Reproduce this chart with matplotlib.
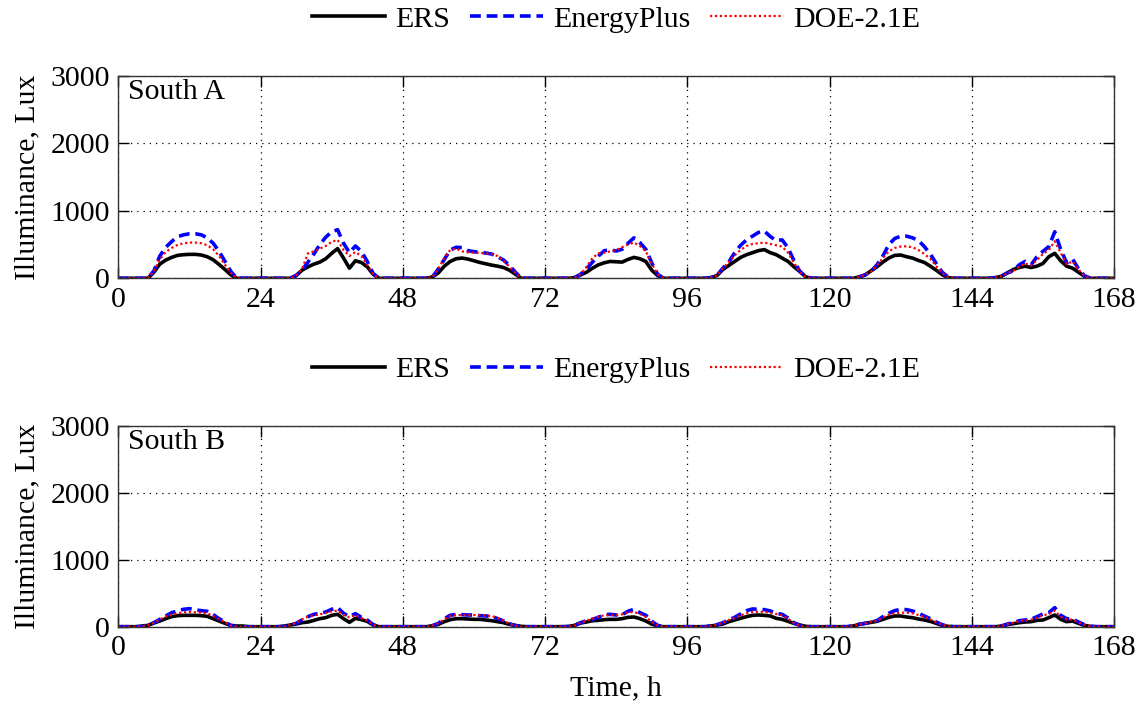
import matplotlib
matplotlib.use("Agg")
import matplotlib.pyplot as plt
import numpy as np

plt.rcParams["font.family"] = ["Liberation Serif", "DejaVu Serif"]
FS = 21.5
plt.rcParams["font.size"] = FS

# hourly illuminance (lux), one row per day, last row closes at hour 168
ers_a = sum([
    [0, 0, 0, 0, 0, 0, 90, 210, 270, 310, 340, 350, 355, 355, 345, 320, 275, 205, 130, 50, 0, 0, 0, 0],
    [0, 0, 0, 0, 0, 0, 40, 120, 170, 210, 240, 290, 370, 440, 300, 150, 260, 235, 170, 60, 0, 0, 0, 0],
    [0, 0, 0, 0, 0, 20, 80, 180, 250, 290, 300, 285, 260, 235, 215, 195, 180, 160, 120, 60, 0, 0, 0, 0],
    [0, 0, 0, 0, 0, 10, 50, 90, 150, 200, 230, 250, 245, 240, 280, 310, 290, 250, 120, 40, 0, 0, 0, 0],
    [0, 0, 0, 0, 10, 40, 130, 190, 250, 310, 350, 380, 410, 425, 380, 350, 300, 250, 170, 100, 20, 0, 0, 0],
    [0, 0, 0, 0, 0, 20, 50, 110, 170, 240, 300, 340, 345, 320, 300, 265, 235, 180, 120, 55, 10, 0, 0, 0],
    [0, 0, 0, 0, 10, 30, 80, 130, 160, 180, 160, 180, 220, 320, 370, 260, 180, 150, 90, 30, 0, 0, 0, 0, 0],
], [])
eplus_a = sum([
    [0, 0, 0, 0, 0, 0, 110, 330, 460, 545, 615, 645, 660, 660, 645, 600, 520, 400, 250, 100, 0, 0, 0, 0],
    [0, 0, 0, 0, 0, 0, 40, 120, 240, 360, 500, 610, 690, 720, 520, 380, 480, 400, 250, 70, 0, 0, 0, 0],
    [0, 0, 0, 0, 0, 20, 140, 280, 420, 460, 455, 410, 395, 385, 375, 360, 320, 270, 190, 90, 0, 0, 0, 0],
    [0, 0, 0, 0, 0, 10, 60, 140, 240, 330, 410, 420, 405, 430, 520, 600, 530, 430, 230, 60, 0, 0, 0, 0],
    [0, 0, 0, 0, 10, 40, 150, 240, 380, 490, 570, 625, 680, 700, 620, 560, 570, 450, 260, 100, 20, 0, 0, 0],
    [0, 0, 0, 0, 0, 20, 50, 100, 200, 330, 500, 590, 625, 625, 600, 560, 470, 360, 220, 90, 20, 0, 0, 0],
    [0, 0, 0, 0, 10, 30, 80, 110, 200, 250, 200, 320, 400, 470, 690, 430, 230, 285, 140, 40, 0, 0, 0, 0, 0],
], [])
doe_a = sum([
    [0, 0, 0, 0, 0, 0, 110, 280, 390, 450, 495, 520, 530, 530, 520, 490, 430, 330, 200, 80, 0, 0, 0, 0],
    [0, 0, 0, 0, 0, 0, 40, 140, 370, 400, 440, 480, 540, 570, 420, 330, 390, 330, 200, 60, 0, 0, 0, 0],
    [0, 0, 0, 0, 0, 20, 140, 300, 420, 440, 400, 385, 380, 375, 370, 360, 330, 260, 170, 80, 0, 0, 0, 0],
    [0, 0, 0, 0, 0, 10, 60, 170, 300, 370, 380, 400, 420, 460, 500, 530, 480, 400, 220, 60, 0, 0, 0, 0],
    [0, 0, 0, 0, 10, 40, 150, 240, 340, 420, 480, 510, 520, 530, 510, 490, 470, 380, 230, 90, 20, 0, 0, 0],
    [0, 0, 0, 0, 0, 20, 50, 100, 190, 300, 400, 450, 470, 475, 460, 420, 360, 290, 180, 80, 20, 0, 0, 0],
    [0, 0, 0, 0, 10, 30, 80, 110, 170, 220, 190, 270, 360, 420, 550, 380, 210, 250, 130, 40, 0, 0, 0, 0, 0],
], [])

ers_b = sum([
    [0, 0, 0, 0, 10, 20, 55, 85, 120, 150, 165, 170, 170, 170, 165, 155, 120, 85, 50, 20, 10, 10, 0, 0],
    [0, 0, 0, 0, 10, 25, 40, 60, 70, 95, 120, 135, 170, 185, 120, 65, 125, 105, 80, 25, 0, 0, 0, 0],
    [0, 0, 0, 0, 0, 15, 35, 75, 105, 120, 120, 115, 110, 110, 100, 90, 75, 60, 35, 20, 5, 0, 0, 0],
    [0, 0, 0, 0, 5, 20, 55, 70, 90, 95, 105, 110, 110, 120, 140, 145, 120, 85, 40, 10, 0, 0, 0, 0],
    [0, 0, 0, 0, 10, 25, 40, 75, 100, 125, 150, 170, 175, 170, 160, 125, 110, 80, 50, 25, 5, 0, 0, 0],
    [0, 0, 0, 0, 10, 35, 50, 65, 80, 110, 140, 160, 160, 145, 135, 115, 100, 80, 50, 20, 5, 0, 0, 0],
    [0, 0, 0, 0, 0, 10, 30, 45, 60, 70, 75, 95, 100, 135, 175, 110, 75, 85, 50, 20, 5, 0, 0, 0, 0],
], [])
eplus_b = sum([
    [0, 0, 0, 0, 0, 20, 60, 110, 160, 210, 235, 260, 270, 250, 240, 230, 180, 120, 70, 15, 0, 0, 0, 0],
    [0, 0, 0, 0, 0, 25, 50, 100, 150, 185, 200, 220, 260, 285, 200, 150, 195, 140, 100, 30, 0, 0, 0, 0],
    [0, 0, 0, 0, 0, 15, 50, 120, 170, 185, 180, 175, 175, 165, 160, 155, 120, 85, 45, 15, 0, 0, 0, 0],
    [0, 0, 0, 0, 0, 20, 60, 90, 110, 140, 180, 185, 175, 180, 230, 260, 210, 170, 80, 20, 0, 0, 0, 0],
    [0, 0, 0, 0, 10, 30, 60, 100, 140, 190, 240, 265, 260, 255, 235, 200, 185, 130, 60, 20, 0, 0, 0, 0],
    [0, 0, 0, 0, 10, 35, 50, 70, 90, 150, 200, 240, 260, 255, 235, 200, 160, 120, 70, 30, 5, 0, 0, 0],
    [0, 0, 0, 0, 0, 10, 40, 60, 90, 100, 110, 150, 190, 210, 285, 170, 120, 115, 70, 30, 5, 0, 0, 0, 0],
], [])
doe_b = sum([
    [0, 0, 0, 0, 0, 20, 60, 110, 150, 180, 200, 215, 220, 215, 210, 200, 160, 110, 65, 15, 0, 0, 0, 0],
    [0, 0, 0, 0, 0, 25, 60, 110, 150, 170, 185, 205, 230, 240, 180, 140, 175, 130, 90, 30, 0, 0, 0, 0],
    [0, 0, 0, 0, 0, 15, 50, 110, 160, 175, 175, 175, 175, 170, 165, 160, 130, 90, 45, 15, 0, 0, 0, 0],
    [0, 0, 0, 0, 0, 20, 60, 90, 120, 150, 170, 175, 175, 185, 215, 220, 190, 150, 70, 20, 0, 0, 0, 0],
    [0, 0, 0, 0, 10, 30, 60, 100, 130, 170, 200, 220, 225, 220, 210, 190, 170, 120, 55, 20, 0, 0, 0, 0],
    [0, 0, 0, 0, 10, 35, 50, 70, 90, 140, 175, 200, 210, 210, 200, 175, 145, 110, 65, 30, 5, 0, 0, 0],
    [0, 0, 0, 0, 0, 10, 40, 60, 85, 95, 105, 135, 170, 190, 240, 150, 110, 105, 65, 30, 5, 0, 0, 0, 0],
], [])

panel_names = ["South A", "South B"]
series_labels = ["ERS", "EnergyPlus", "DOE-2.1E"]
x_ticks = [0, 24, 48, 72, 96, 120, 144, 168]
y_ticks = [0, 1000, 2000, 3000]

panels = [(ers_a, eplus_a, doe_a), (ers_b, eplus_b, doe_b)]
styles = [
    dict(color="black", lw=2.6, ls="-"),
    dict(color="#0000FF", lw=2.6, ls=(0, (3, 1.6))),
    dict(color="#FF0000", lw=1.6, ls=(0, (1, 1.2))),
]

fig = plt.figure(figsize=(11.42, 7.04), dpi=100)
fig.patch.set_facecolor("white")
rects = [[0.1036, 0.6047, 0.8719, 0.2873],
         [0.1036, 0.1098, 0.8719, 0.2851]]

for rect, name, series in zip(rects, panel_names, panels):
    ax = fig.add_axes(rect)
    for vals, lab, st in zip(series, series_labels, styles):
        hours = np.arange(len(vals))
        ax.plot(hours, vals, label=lab, **st)
    ax.set_xlim(0, 168)
    ax.set_ylim(0, 3000)
    ax.set_xticks(x_ticks)
    ax.set_yticks(y_ticks)
    ax.grid(True, color="black", ls=(0, (1, 4)), lw=0.9)
    ax.tick_params(direction="in", length=8, width=1, top=True, right=True,
                   pad=6, labelsize=FS)
    for sp in ax.spines.values():
        sp.set_linewidth(1.0)
        sp.set_color("#333333")
    ax.set_ylabel("Illuminance, Lux", fontsize=FS, labelpad=7)
    ax.text(0.01, 0.985, name, transform=ax.transAxes, ha="left", va="top",
            fontsize=FS)
    ax.legend(loc="center", bbox_to_anchor=(0.5, 1.28), ncol=3, frameon=False,
              handlelength=2.45, handletextpad=0.33, columnspacing=0.67,
              fontsize=FS, borderpad=0)

ax.set_xlabel("Time, h", fontsize=FS, labelpad=10)

fig.savefig("out.png", dpi=100, facecolor="white")
